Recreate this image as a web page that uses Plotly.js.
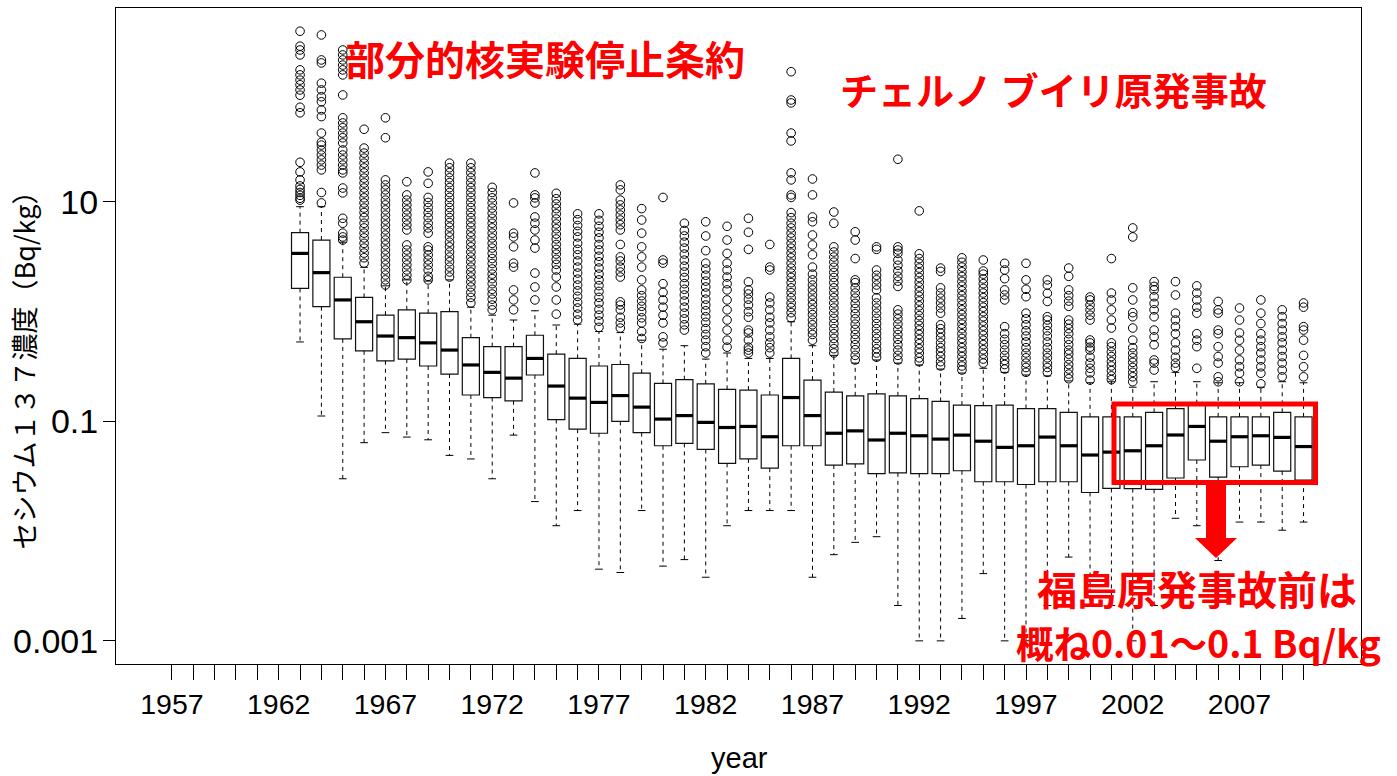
<!DOCTYPE html>
<html>
<head>
<meta charset="utf-8">
<script src="https://cdn.plot.ly/plotly-3.0.1.min.js"></script>
<style>html,body{margin:0;padding:0;background:#fff;}#chart{width:1397px;height:776px;}</style>
</head>
<body>
<div id="chart"></div>
<script>
// ---- data (Bq/kg), one entry per year ----
const years = [1963,1964,1965,1966,1967,1968,1969,1970,1971,1972,1973,1974,1975,1976,1977,1978,1979,1980,1981,1982,1983,1984,1985,1986,1987,1988,1989,1990,1991,1992,1993,1994,1995,1996,1997,1998,1999,2000,2001,2002,2003,2004,2005,2006,2007,2008,2009,2010];
const whiskerLow = [0.53,0.112,0.030,0.064,0.079,0.072,0.068,0.049,0.0455,0.030,0.075,0.0186,0.0112,0.0154,0.0045,0.0042,0.0154,0.0048,0.0055,0.0038,0.0112,0.0154,0.0154,0.0154,0.0038,0.0061,0.0079,0.0089,0.0021,0.001,0.001,0.0016,0.0041,0.001,0.001,0.0021,0.0058,0.0021,0.0021,0.001,0.0021,0.0131,0.0112,0.0054,0.0121,0.0121,0.0102,0.0121];
const q1 = [1.63,1.11,0.565,0.44,0.357,0.37,0.32,0.27,0.174,0.165,0.154,0.265,0.104,0.085,0.078,0.10,0.079,0.060,0.063,0.0555,0.0415,0.0455,0.0375,0.060,0.060,0.040,0.041,0.0335,0.034,0.0335,0.0335,0.0355,0.0282,0.0282,0.0266,0.0282,0.0282,0.0225,0.0245,0.0244,0.024,0.0305,0.0445,0.0311,0.0386,0.040,0.0353,0.0292];
const median = [3.4,2.27,1.28,0.81,0.60,0.58,0.52,0.447,0.327,0.28,0.248,0.375,0.21,0.163,0.149,0.172,0.135,0.105,0.113,0.098,0.088,0.090,0.0725,0.165,0.113,0.078,0.082,0.0677,0.078,0.074,0.069,0.075,0.066,0.058,0.060,0.072,0.060,0.0494,0.0525,0.054,0.060,0.0752,0.090,0.066,0.0725,0.074,0.0715,0.059];
const q3 = [5.25,4.5,2.06,1.35,0.93,1.04,0.97,1.0,0.58,0.48,0.48,0.61,0.41,0.375,0.32,0.33,0.275,0.222,0.24,0.22,0.196,0.193,0.174,0.375,0.238,0.185,0.171,0.178,0.171,0.161,0.152,0.141,0.139,0.141,0.131,0.131,0.121,0.110,0.110,0.110,0.121,0.1306,0.145,0.110,0.110,0.110,0.121,0.110];
const whiskerHigh = [9.06,9.06,4.3,2.54,1.72,1.95,1.9,1.95,1.1,0.93,0.84,1.02,0.756,0.77,0.66,0.645,0.55,0.455,0.49,0.37,0.42,0.375,0.375,0.81,0.49,0.40,0.34,0.363,0.34,0.327,0.30,0.276,0.305,0.28,0.265,0.26,0.234,0.225,0.23,0.205,0.23,0.28,0.23,0.225,0.225,0.205,0.23,0.225];
const outliers = [
 [10.4,10.8,11.5,12.2,13,14,15.9,18.8,23,65,73,94,105,117,129,144,160,219,243,263,360],
 [9.8,12.2,19.6,21.7,24.2,26.8,29.8,33,35,42.5,60,69,82,91,105,121,185,197,333],
 [4.5,4.8,5.2,6.4,7.1,12.1,13.4,18.4,19.6,21.7,24.2,26.8,29.8,34.5,38.5,42.5,47.5,52.5,58.5,94.5,144,160,177,197,219,243],
 [2.77,3.1,3.42,3.8,4.2,4.7,5.2,5.8,6.4,7.2,8.0,8.8,9.8,10.9,12.1,13.4,14.9,16.5,18.4,20.4,22.6,25.1,27.9,31,46],
 [1.75,1.95,2.16,2.4,2.67,2.96,3.29,3.65,4.06,4.5,5.0,5.56,6.17,6.85,7.6,8.46,9.4,10.4,11.6,12.9,14.3,15.9,38.5,58.5],
 [1.95,2.16,2.4,2.67,2.96,3.29,3.65,4.06,5.56,6.17,6.85,7.61,8.46,9.4,10.4,11.6,15.3],
 [1.95,2.1,2.4,2.67,2.96,3.29,3.65,3.9,5.2,5.8,6.4,7.2,8.0,8.9,9.9,11,14.8,18.8],
 [2.07,2.3,2.55,2.85,3.15,3.5,3.9,4.3,4.8,5.3,5.9,6.5,7.2,8.0,8.9,9.9,11,12.2,13.5,15,16.6,18.5,20.5,22.6],
 [1.2,1.35,1.5,1.68,1.87,2.07,2.3,2.55,2.85,3.15,3.5,3.9,4.3,4.8,5.3,5.9,6.5,7.2,8.0,8.9,9.9,11,12.2,13.5,15,16.6,18.5,20.5,22.6],
 [1.04,1.15,1.3,1.45,1.6,1.8,2.0,2.2,2.45,2.75,3.05,3.4,3.8,4.2,4.7,5.2,5.8,6.4,7.1,7.9,8.8,9.8,10.9,12.2,13.6],
 [1.04,1.28,1.58,2.55,2.77,3.9,4.8,5.2,9.8],
 [1.28,1.68,2.25,3.8,4.5,5.56,6.4,7.3,9.8,10.9,11.6,18.4],
 [0.95,1.28,1.68,2.07,2.4,2.7,3.0,3.35,3.7,4.1,4.6,5.1,5.7,6.3,7.0,7.8,8.7,9.6,10.7,12.0],
 [0.84,0.95,1.08,1.22,1.38,1.55,1.75,1.98,2.25,2.55,2.9,3.3,3.7,4.2,4.8,5.4,6.1,6.9,7.8],
 [0.72,0.82,0.93,1.05,1.2,1.35,1.53,1.73,1.95,2.2,2.5,2.85,3.2,3.65,4.1,4.7,5.3,6.0,6.8,7.8],
 [0.71,0.79,0.89,1.04,1.15,1.23,2.07,2.3,2.55,2.9,3.16,4.1,5.56,6.2,6.85,7.6,8.46,9.4,10.4,12.9,14.3],
 [0.57,0.66,0.79,0.88,1.0,1.12,1.25,1.4,1.58,1.95,2.55,3.16,3.9,5.2,6.85,8.7],
 [0.52,0.59,0.79,0.93,1.1,1.28,1.5,1.8,2.77,2.96,11],
 [0.68,0.76,0.86,0.97,1.1,1.25,1.42,1.6,1.8,2.05,2.3,2.6,2.95,3.35,3.8,4.3,4.9,5.5,6.4],
 [0.42,0.48,0.55,0.62,0.7,0.8,0.9,1.02,1.15,1.3,1.48,1.68,1.9,2.15,2.45,2.77,3.6,4.9,6.6],
 [0.475,0.55,0.68,0.84,1.04,1.28,1.58,1.8,2.07,2.4,2.77,3.4,4.5,6.0],
 [0.42,0.447,0.475,0.552,0.64,0.68,0.89,1.0,1.15,1.3,1.45,1.58,1.87,3.7,5.3,7.1],
 [0.42,0.47,0.52,0.59,0.68,0.79,0.89,1.04,1.2,1.36,2.4,2.55,4.1],
 [0.88,0.98,1.09,1.2,1.34,1.49,1.65,1.84,2.05,2.25,2.5,2.77,3.1,3.42,3.8,4.2,4.7,5.2,5.8,6.4,7.2,8.0,11,11.6,15.9,18.4,36,42.5,80,85,154],
 [0.55,0.62,0.68,0.76,0.84,0.94,1.04,1.16,1.28,1.42,1.58,1.75,1.95,2.2,2.55,3.3,4.06,5.0,6.6,7.3,11.6,16.2],
 [0.42,0.46,0.51,0.57,0.63,0.7,0.78,0.87,0.97,1.08,1.2,1.34,1.49,1.65,1.84,2.05,2.28,2.54,2.83,3.15,3.5,3.9,6.4,8.1],
 [0.363,0.4,0.45,0.5,0.56,0.62,0.69,0.77,0.86,0.96,1.07,1.19,1.33,1.48,1.65,1.84,1.95,3.05,4.5,5.35],
 [0.385,0.42,0.46,0.51,0.57,0.63,0.7,0.78,0.87,0.97,1.08,1.2,1.34,1.58,1.75,1.95,2.15,2.4,3.7,3.9],
 [0.363,0.4,0.447,0.5,0.56,0.62,0.69,0.77,0.86,0.95,1.04,1.7,1.9,2.1,2.35,2.65,2.96,3.4,3.65,3.9,24.5],
 [0.35,0.38,0.42,0.46,0.51,0.56,0.62,0.68,0.75,0.83,0.92,1.02,1.13,1.25,1.38,1.52,1.68,1.86,2.05,2.27,2.5,2.76,3.05,3.37,8.3],
 [0.32,0.35,0.39,0.43,0.47,0.52,0.58,0.64,0.7,0.76,0.97,1.08,1.2,1.33,1.48,1.65,2.33,2.5],
 [0.294,0.32,0.35,0.39,0.43,0.47,0.52,0.57,0.63,0.7,0.77,0.85,0.94,1.04,1.15,1.27,1.4,1.55,1.71,1.89,2.09,2.31,2.55,2.82,3.1],
 [0.34,0.37,0.41,0.45,0.5,0.55,0.61,0.67,0.74,0.82,0.9,1.0,1.1,1.21,1.34,1.48,1.63,1.8,1.99,2.2,2.35,2.96],
 [0.3,0.33,0.36,0.4,0.447,0.5,0.56,0.63,0.73,1.28,1.42,1.58,2.0,2.4,2.76],
 [0.28,0.31,0.34,0.38,0.42,0.47,0.53,0.6,0.67,0.76,0.86,0.97,1.37,1.6,1.95,2.76],
 [0.28,0.31,0.34,0.38,0.42,0.47,0.53,0.6,0.67,0.75,0.84,0.9,1.24,1.47,1.75,1.95],
 [0.245,0.27,0.3,0.33,0.37,0.41,0.447,0.5,0.56,0.63,0.7,0.77,0.84,1.12,1.25,1.4,1.58,2.1,2.5],
 [0.238,0.277,0.305,0.34,0.385,0.447,0.475,0.52,0.552,0.84,0.93,1.04,1.15,1.28,1.36],
 [0.24,0.26,0.29,0.32,0.35,0.39,0.43,0.48,0.52,0.71,0.84,1.04,1.28,1.48,3.05],
 [0.23,0.255,0.28,0.31,0.345,0.38,0.42,0.47,0.55,0.71,0.9,0.98,1.28,1.65,4.8,5.8],
 [0.294,0.34,0.363,0.5,0.59,0.68,0.9,1.04,1.19,1.37,1.58,1.7,1.88],
 [0.31,0.34,0.385,0.447,0.52,0.63,0.73,0.84,0.97,1.42,1.88],
 [0.305,0.48,0.55,0.63,0.97,1.1,1.28,1.48,1.72],
 [0.23,0.255,0.34,0.39,0.48,0.63,0.68,0.97,1.04,1.24],
 [0.23,0.275,0.315,0.363,0.447,0.55,0.64,0.84,1.08],
 [0.22,0.275,0.315,0.363,0.42,0.48,0.55,0.63,0.78,0.97,1.28],
 [0.255,0.294,0.34,0.39,0.447,0.52,0.59,0.68,0.78,0.9,1.04],
 [0.255,0.315,0.4,0.55,0.68,0.73,1.1,1.2]
];
const tickYears = [];
for (let y = 1957; y <= 2010; y++) tickYears.push(y);
const tickYearLabels = tickYears.map(y => ((y - 1957) % 5 === 0) ? String(y) : '');
const yTickVals = [10, 0.1, 0.001];
const yTickText = ['10', '0.1', '0.001'];
const yTitle = 'セシウム１３７濃度（Bq/kg）';
const xTitle = 'year';
const note1 = '部分的核実験停止条約';
const note2 = 'チェルノ ブイリ原発事故';
const note3 = '福島原発事故前は';
const note4 = '概ね0.01～0.1 Bq/kg';

// ---- build traces ----
const HALF = 0.4, STAP = 0.18;
const wx = [], wy = [], sx = [], sy = [], mx = [], my = [], ox = [], oy = [];
years.forEach((yr, i) => {
  wx.push(yr, yr, null, yr, yr, null);
  wy.push(q3[i], whiskerHigh[i], null, q1[i], whiskerLow[i], null);
  sx.push(yr - STAP, yr + STAP, null, yr - STAP, yr + STAP, null);
  sy.push(whiskerHigh[i], whiskerHigh[i], null, whiskerLow[i], whiskerLow[i], null);
  mx.push(yr - HALF, yr + HALF, null);
  my.push(median[i], median[i], null);
  outliers[i].forEach(v => { ox.push(yr); oy.push(v); });
});

const traces = [
  {type:'scatter', mode:'lines', x:wx, y:wy, line:{color:'#000', width:1, dash:'4px,4px'}, hoverinfo:'skip'},
  {type:'scatter', mode:'lines', x:sx, y:sy, line:{color:'#000', width:1}, hoverinfo:'skip'},
  {type:'box', x:years, q1:q1, median:median, q3:q3, lowerfence:q1, upperfence:q3,
   width:0.8, whiskerwidth:0, boxpoints:false, fillcolor:'#fff', line:{color:'#111', width:1.2}},
  {type:'scatter', mode:'lines', x:mx, y:my, line:{color:'#000', width:3.2}, hoverinfo:'skip'},
  {type:'scatter', mode:'markers', x:ox, y:oy,
   marker:{symbol:'circle-open', size:8.6, color:'#000', line:{width:1, color:'#000'}}, hoverinfo:'skip'}
];

// pixel -> paper helpers for annotations
const L = 116, R = 1361, T = 8, B = 664;
const PX = v => (v - L) / (R - L);
const PY = v => (B - v) / (B - T);
const red = '#ff0000';
const cjk = '"Noto Sans CJK JP", "Noto Sans", sans-serif';

const arrowPts = [[1206,484],[1226,484],[1226,538],[1237,538],[1216,558],[1195,538],[1206,538]];
const arrowPath = 'M' + arrowPts.map(p => PX(p[0]).toFixed(5) + ',' + PY(p[1]).toFixed(5)).join(' L') + ' Z';

const layout = {
  width:1397, height:776,
  margin:{l:L, r:1397-R, t:T, b:776-B, pad:0},
  paper_bgcolor:'#fff', plot_bgcolor:'#fff',
  showlegend:false,
  font:{family:'"Liberation Sans", Arial, sans-serif', color:'#000'},
  xaxis:{
    range:[1954.38, 2012.69], tickmode:'array', tickvals:tickYears, ticktext:tickYearLabels,
    ticks:'outside', ticklen:15, tickwidth:1, tickcolor:'#000',
    tickfont:{size:28.5, color:'#000'}, ticklabelstandoff:0,
    showline:true, mirror:true, linecolor:'#000', linewidth:1,
    showgrid:false, zeroline:false
  },
  yaxis:{
    type:'log', range:[-3.211, 2.768], tickmode:'array', tickvals:yTickVals, ticktext:yTickText,
    ticks:'outside', ticklen:12, tickwidth:1, tickcolor:'#000',
    tickfont:{size:34, color:'#000'}, ticklabelstandoff:-2,
    showline:true, mirror:true, linecolor:'#000', linewidth:1,
    showgrid:false, zeroline:false
  },
  shapes:[
    {type:'rect', xref:'paper', yref:'paper', x0:PX(1114), x1:PX(1315.5), y0:PY(482.5), y1:PY(404),
     line:{color:red, width:5}, fillcolor:'rgba(0,0,0,0)'},
    {type:'path', xref:'paper', yref:'paper', path:arrowPath, fillcolor:red, line:{width:0}}
  ],
  annotations:[
    {text:yTitle, xref:'paper', yref:'paper', x:PX(23), y:PY(363.5), textangle:-90, showarrow:false,
     xanchor:'center', yanchor:'middle', font:{family:cjk, size:27, color:'#000'}},
    {text:xTitle, xref:'paper', yref:'paper', x:PX(739), y:PY(758), showarrow:false, borderpad:0,
     xanchor:'center', yanchor:'middle', font:{size:29, color:'#000'}},
    {text:'<b>'+note1+'</b>', xref:'paper', yref:'paper', x:PX(544.5), y:PY(58), showarrow:false,
     xanchor:'center', yanchor:'middle', font:{family:cjk, size:40, color:red}},
    {text:'<b>'+note2+'</b>', xref:'paper', yref:'paper', x:PX(1053), y:PY(88), showarrow:false,
     xanchor:'center', yanchor:'middle', font:{family:cjk, size:38, color:red}},
    {text:'<b>'+note3+'</b>', xref:'paper', yref:'paper', x:PX(1196.5), y:PY(588), showarrow:false, borderpad:0,
     xanchor:'center', yanchor:'middle', font:{family:cjk, size:40, color:red}},
    {text:'<b>'+note4+'</b>', xref:'paper', yref:'paper', x:PX(1198), y:PY(641), showarrow:false, borderpad:0,
     xanchor:'center', yanchor:'middle', font:{family:cjk, size:37.5, color:red}}
  ]
};

Plotly.newPlot('chart', traces, layout, {staticPlot:true, displayModeBar:false});
</script>
</body>
</html>
